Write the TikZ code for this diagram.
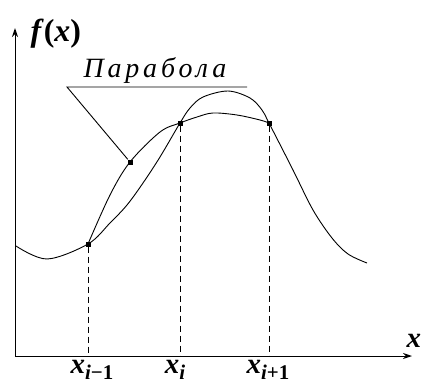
\documentclass[tikz,border=0pt]{standalone}
\usepackage{fontspec}
\setmainfont{LiberationSerif}[Extension=.ttf,UprightFont=*-Regular,BoldFont=*-Bold,ItalicFont=*-Italic,BoldItalicFont=*-BoldItalic]
\newfontfamily\parfont{LiberationSerif}[Extension=.ttf,UprightFont=*-Regular,ItalicFont=*-Italic,LetterSpace=14]
\usetikzlibrary{arrows.meta}
\newcommand\xsub[1]{\textbf{\textit{x}}\raisebox{-6bp}{\fontsize{21}{21}\selectfont\bfseries #1}}

\begin{document}
\begin{tikzpicture}[x=1bp,y=-1bp,>={Stealth[length=9bp,width=6bp]},
 curve/.style={line width=0.9bp},
 axis/.style={line width=1bp},
 guide/.style={dash pattern=on 6bp off 4bp,line width=0.9bp},
 dot/.style={fill,inner sep=0,minimum size=5bp},
 lab/.style={font=\fontsize{29}{31}\selectfont\bfseries,anchor=base}]
\useasboundingbox (0,0) rectangle (424,383);
\coordinate (o) at (15,356);
\coordinate (ytip) at (15,28);
\coordinate (xtip) at (412,356);
\draw[axis,<->] (ytip) |- (xtip);
% f(x) and the parabola
\draw[curve] plot[smooth,tension=0.55] coordinates {(16,246) (47,259) (88,244) (110,223) (127,205) (143,183) (160,157) (180,123) (190,108) (203,97) (228,91) (250,98) (262,110) (269,123) (293,170) (313,210) (332,238) (348,254) (367,263)};
\draw[curve] plot[smooth,tension=0.55] coordinates {(88,244) (110,195) (130,162) (160,132) (180,123) (197,117) (213,113) (237,115) (260,120) (269,123)};
\node[dot] (p0) at (88,244) {};
\node[dot] (p1) at (180,123) {};
\node[dot] (p2) at (269,123) {};
\node[dot] (m) at (130,162) {};
\draw[guide] (p0) -- (p0 |- o);
\draw[guide] (p1) -- (p1 |- o);
\draw[guide] (p2) -- (p2 |- o);
% label of the parabola
\coordinate (lb) at (67,87);
\coordinate (le) at (247,87);
\draw[curve] (le) -- (lb) -- (m);
\node[anchor=base west,font=\fontsize{28}{30}\parfont\itshape] (par) at (80,77) {Парабола};
\node[lab,anchor=base west,font=\fontsize{32}{34}\selectfont\bfseries] (fx) at (27,41) {\textit{f}(\textit{x})};
\node[lab,anchor=base west] (xl) at (403,347) {\textit{x}};
\node[lab] (x0) at (92,373) {\xsub{\textit{i}−1}};
\node[lab] (x1) at (175,373) {\xsub{\textit{i}}};
\node[lab] (x2) at (268,373) {\xsub{\textit{i}+1}};
\end{tikzpicture}
\end{document}
